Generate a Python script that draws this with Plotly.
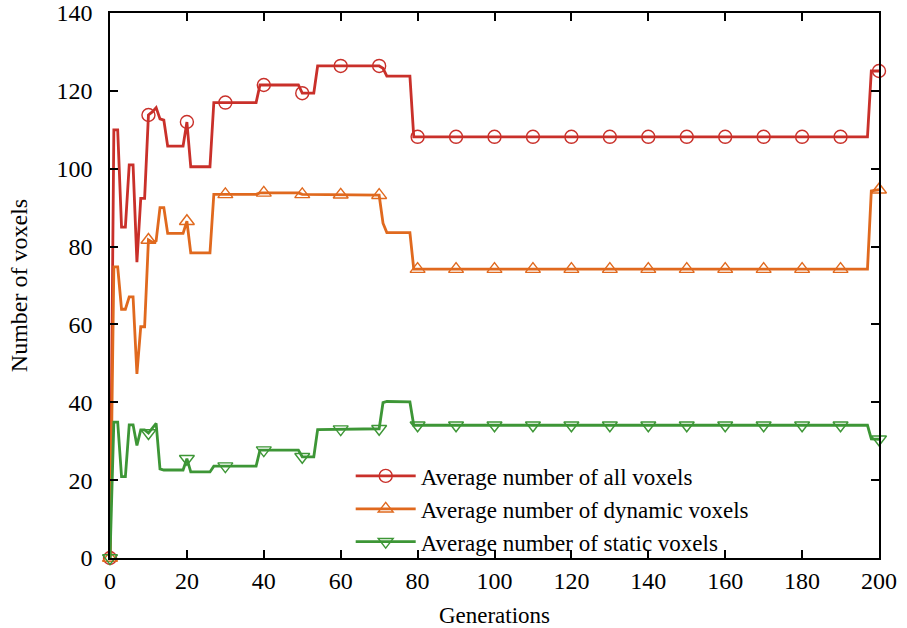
import plotly.graph_objects as go

# ---- data (vertex generations and values) ----
all_gens = [0, 1, 2, 3, 4, 5, 6, 7, 8, 9, 10, 11, 12, 13, 14, 15, 19, 20, 21, 26, 27, 38, 39, 49, 50, 53, 54, 70, 71, 72, 78, 79, 197, 198, 200]
all_vals = [0, 110, 110, 85, 85, 101, 101, 76, 92.4, 92.4, 113.8, 114.6, 115.7, 112.8, 112.5, 105.8, 105.8, 112, 100.5, 100.5, 117, 117, 121.5, 121.5, 119.4, 119.4, 126.4, 126.4, 125.8, 123.8, 123.8, 108.2, 108.2, 125.1, 125.1]

dyn_gens = [0, 1, 2, 3, 4, 5, 6, 7, 8, 9, 10, 11, 12, 13, 14, 15, 19, 20, 21, 26, 27, 38, 39, 49, 50, 70, 71, 72, 78, 79, 197, 198, 200]
dyn_vals = [0, 74.8, 74.8, 63.9, 63.9, 67.1, 67.1, 47.3, 59.4, 59.4, 81.7, 81.1, 81.5, 90, 90, 83.4, 83.4, 86.5, 78.4, 78.4, 93.4, 93.4, 93.8, 93.8, 93.4, 93.2, 86, 83.6, 83.6, 74.2, 74.2, 94.3, 94.6]

sta_gens = [0, 1, 2, 3, 4, 5, 6, 7, 8, 9, 10, 11, 12, 13, 14, 19, 20, 21, 26, 27, 38, 39, 49, 50, 53, 54, 70, 71, 72, 78, 79, 197, 198, 200]
sta_vals = [0, 34.9, 34.9, 20.9, 20.9, 34.2, 34.2, 28.9, 32.9, 32.9, 32.1, 33.5, 34.6, 22.9, 22.6, 22.6, 25.5, 22.1, 22.1, 23.6, 23.6, 27.7, 27.7, 26, 26, 33, 33.2, 39.9, 40.2, 40.1, 34.1, 34.1, 30.6, 30.5]

mark_gens = [0, 10, 20, 30, 40, 50, 60, 70, 80, 90, 100, 110, 120, 130, 140, 150, 160, 170, 180, 190, 200]
all_marks = [0, 113.8, 112, 117, 121.5, 119.4, 126.4, 126.4, 108.2, 108.2, 108.2, 108.2, 108.2, 108.2, 108.2, 108.2, 108.2, 108.2, 108.2, 108.2, 125.1]
dyn_marks = [0, 81.7, 86.5, 93.4, 93.8, 93.4, 93.3, 93.2, 74.2, 74.2, 74.2, 74.2, 74.2, 74.2, 74.2, 74.2, 74.2, 74.2, 74.2, 74.2, 94.6]
sta_marks = [0, 32.1, 25.5, 23.6, 27.7, 26, 33.1, 33.2, 34.1, 34.1, 34.1, 34.1, 34.1, 34.1, 34.1, 34.1, 34.1, 34.1, 34.1, 34.1, 30.5]

names = ["Average number of all voxels", "Average number of dynamic voxels", "Average number of static voxels"]
colors = ["#c9302a", "#e0691e", "#3d9636"]
symbols = ["circle-open", "triangle-up-open", "triangle-down-open"]

x_ticks = [0, 20, 40, 60, 80, 100, 120, 140, 160, 180, 200]
y_ticks = [0, 20, 40, 60, 80, 100, 120, 140]

series = [
    (all_gens, all_vals, all_marks),
    (dyn_gens, dyn_vals, dyn_marks),
    (sta_gens, sta_vals, sta_marks),
]

fig = go.Figure()
for i, (gx, gy, gm) in enumerate(series):
    fig.add_trace(go.Scatter(x=gx, y=gy, mode="lines", line=dict(color=colors[i], width=2.8),
                             showlegend=False, legendgroup=str(i), hoverinfo="skip"))
    fig.add_trace(go.Scatter(x=mark_gens, y=gm, mode="markers", cliponaxis=False,
                             marker=dict(symbol=symbols[i], size=13, color=colors[i], line=dict(width=1.4, color=colors[i])),
                             showlegend=False, legendgroup=str(i)))
    fig.add_trace(go.Scatter(x=[None], y=[None], mode="lines+markers", name=names[i],
                             line=dict(color=colors[i], width=2.8),
                             marker=dict(symbol=symbols[i], size=13, color=colors[i], line=dict(width=1.4, color=colors[i])),
                             legendgroup=str(i)))

axis_common = dict(showline=True, mirror="ticks", linecolor="black", linewidth=1.5,
                   ticks="inside", ticklen=8, tickwidth=1.5, tickcolor="black",
                   showgrid=False, zeroline=False, tickfont=dict(size=24),
                   ticklabeloverflow="allow")

fig.update_layout(
    width=907, height=628,
    margin=dict(l=110, r=28, t=13, b=70),
    paper_bgcolor="white", plot_bgcolor="white",
    font=dict(family="Liberation Serif", size=23, color="black"),
    xaxis=dict(range=[0, 200], tickvals=x_ticks, ticktext=[str(v) for v in x_ticks],
               title=dict(text="Generations", standoff=14, font=dict(size=23)), automargin=False, **axis_common),
    yaxis=dict(range=[0, 140], tickvals=y_ticks, ticktext=[str(v) for v in y_ticks],
               ticklabelstandoff=11,
               title=dict(text="Number of voxels", standoff=22, font=dict(size=24)), automargin=False, **axis_common),
    legend=dict(x=0.313, y=-0.01, xanchor="left", yanchor="bottom", bgcolor="rgba(0,0,0,0)",
                font=dict(size=23), itemwidth=60, tracegroupgap=0),
    showlegend=True,
)

fig.write_html("out.html", config={"displayModeBar": False},
               post_script="document.body.style.margin='0';")
